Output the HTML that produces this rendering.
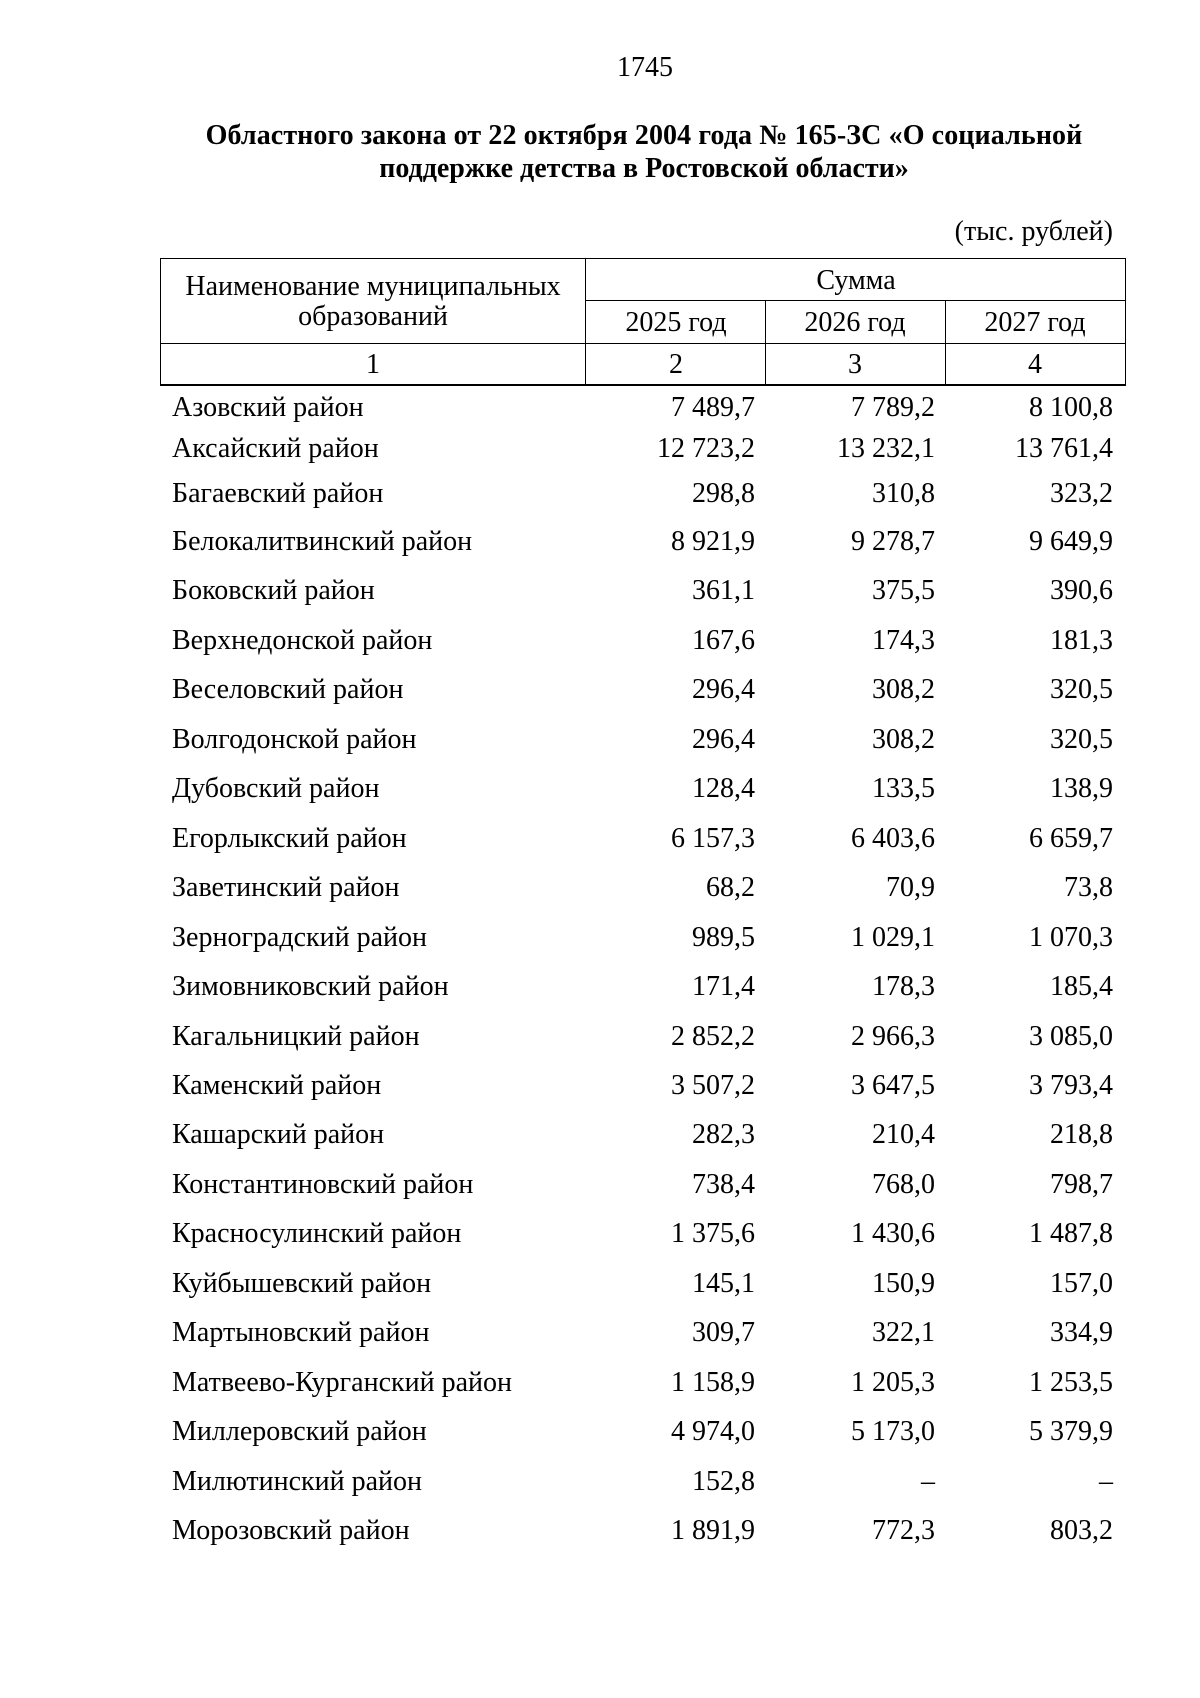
<!DOCTYPE html>
<html><head><meta charset="utf-8"><style>
body{margin:0;background:#fff;}
#p{position:relative;width:1200px;height:1698px;font-family:"Liberation Serif",serif;font-size:28px;color:#000;}
.a{position:absolute;white-space:nowrap;line-height:1;}
.c{transform:translateX(-50%);}
.r{transform:translateX(-100%);}
.h{position:absolute;background:#000;}
</style></head><body><div id="p">
<div class="a c" style="left:645px;top:54px">1745</div>
<div class="a c" style="left:644px;top:122px;font-weight:bold;letter-spacing:0.1px">Областного закона от 22 октября 2004 года № 165-ЗС «О социальной</div>
<div class="a c" style="left:644px;top:155px;font-weight:bold">поддержке детства в Ростовской области»</div>
<div class="a r" style="left:1113px;top:218px">(тыс. рублей)</div>

<div class="h" style="left:160px;top:258px;width:966px;height:1px"></div>
<div class="h" style="left:585px;top:300px;width:541px;height:1px"></div>
<div class="h" style="left:160px;top:343px;width:966px;height:1px"></div>
<div class="h" style="left:160px;top:384px;width:966px;height:2px"></div>
<div class="h" style="left:160px;top:258px;width:1px;height:128px"></div>
<div class="h" style="left:585px;top:258px;width:1px;height:128px"></div>
<div class="h" style="left:765px;top:300px;width:1px;height:86px"></div>
<div class="h" style="left:945px;top:300px;width:1px;height:86px"></div>
<div class="h" style="left:1125px;top:258px;width:1px;height:128px"></div>

<div class="a c" style="left:373px;top:273px">Наименование муниципальных</div>
<div class="a c" style="left:373px;top:303px">образований</div>
<div class="a c" style="left:856px;top:267px">Сумма</div>
<div class="a c" style="left:676px;top:309px">2025 год</div>
<div class="a c" style="left:855px;top:309px">2026 год</div>
<div class="a c" style="left:1035px;top:309px">2027 год</div>
<div class="a c" style="left:373px;top:351px">1</div>
<div class="a c" style="left:676px;top:351px">2</div>
<div class="a c" style="left:855px;top:351px">3</div>
<div class="a c" style="left:1035px;top:351px">4</div>

<div id="rows"></div>
</div>
<script>
var d=[["Азовский район","7 489,7","7 789,2","8 100,8"],["Аксайский район","12 723,2","13 232,1","13 761,4"],["Багаевский район","298,8","310,8","323,2"],["Белокалитвинский район","8 921,9","9 278,7","9 649,9"],["Боковский район","361,1","375,5","390,6"],["Верхнедонской район","167,6","174,3","181,3"],["Веселовский район","296,4","308,2","320,5"],["Волгодонской район","296,4","308,2","320,5"],["Дубовский район","128,4","133,5","138,9"],["Егорлыкский район","6 157,3","6 403,6","6 659,7"],["Заветинский район","68,2","70,9","73,8"],["Зерноградский район","989,5","1 029,1","1 070,3"],["Зимовниковский район","171,4","178,3","185,4"],["Кагальницкий район","2 852,2","2 966,3","3 085,0"],["Каменский район","3 507,2","3 647,5","3 793,4"],["Кашарский район","282,3","210,4","218,8"],["Константиновский район","738,4","768,0","798,7"],["Красносулинский район","1 375,6","1 430,6","1 487,8"],["Куйбышевский район","145,1","150,9","157,0"],["Мартыновский район","309,7","322,1","334,9"],["Матвеево-Курганский район","1 158,9","1 205,3","1 253,5"],["Миллеровский район","4 974,0","5 173,0","5 379,9"],["Милютинский район","152,8","–","–"],["Морозовский район","1 891,9","772,3","803,2"]];
var ys=[409,450,495];for(var i=3;i<24;i++)ys.push(543+(i-3)*49.45);
var h="";d.forEach(function(r,i){var t=Math.round(ys[i]-15);
h+='<div class="a" style="left:172px;top:'+t+'px">'+r[0]+'</div>';
h+='<div class="a r" style="left:755px;top:'+t+'px">'+r[1]+'</div>';
h+='<div class="a r" style="left:935px;top:'+t+'px">'+r[2]+'</div>';
h+='<div class="a r" style="left:1113px;top:'+t+'px">'+r[3]+'</div>';});
document.getElementById("rows").outerHTML=h;
</script>
</body></html>
